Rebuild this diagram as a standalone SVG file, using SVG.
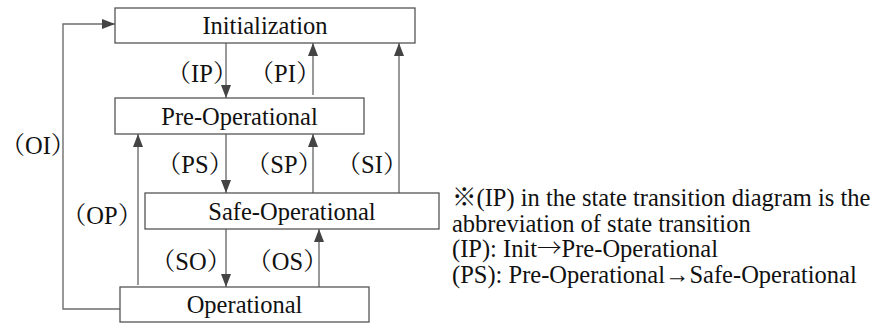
<svg xmlns="http://www.w3.org/2000/svg" width="877" height="323" viewBox="0 0 877 323">
<style>
.dgbox{fill:#fff;stroke:#555;stroke-width:1.3}
.dgmid{text-anchor:middle}
.dgln{fill:none;stroke:#6e6e6e;stroke-width:1.4}
</style>
<defs>
<marker id="ah" markerUnits="userSpaceOnUse" viewBox="0 0 13 10" refX="13" refY="5" markerWidth="13" markerHeight="10" orient="auto">
<path d="M0,0 L13,5 L0,10 z" fill="#444"/>
</marker>
</defs>
<rect width="877" height="323" fill="#fff"/>
<g id="connectors">
<line class="dgln" x1="226" y1="43" x2="226" y2="98" marker-end="url(#ah)"/>
<line class="dgln" x1="313" y1="95" x2="313" y2="43" marker-end="url(#ah)"/>
<line class="dgln" x1="399" y1="193" x2="399" y2="43" marker-end="url(#ah)"/>
<line class="dgln" x1="226" y1="134" x2="226" y2="193" marker-end="url(#ah)"/>
<line class="dgln" x1="313" y1="193" x2="313" y2="134" marker-end="url(#ah)"/>
<line class="dgln" x1="138" y1="285" x2="138" y2="134" marker-end="url(#ah)"/>
<line class="dgln" x1="226" y1="229" x2="226" y2="287" marker-end="url(#ah)"/>
<line class="dgln" x1="319" y1="287" x2="319" y2="229" marker-end="url(#ah)"/>
<polyline class="dgln" points="120,309 63,309 63,24 115,24" marker-end="url(#ah)"/>
<text class="dgmid" font-family="Liberation Serif" font-size="24.5" fill="#111" x="202" y="82"><tspan font-family="Noto Serif CJK SC">（</tspan>IP<tspan font-family="Noto Serif CJK SC">）</tspan></text>
<text class="dgmid" font-family="Liberation Serif" font-size="24.5" fill="#111" x="285" y="82"><tspan font-family="Noto Serif CJK SC">（</tspan>PI<tspan font-family="Noto Serif CJK SC">）</tspan></text>
<text class="dgmid" font-family="Liberation Serif" font-size="24.5" fill="#111" x="195" y="172.5"><tspan font-family="Noto Serif CJK SC">（</tspan>PS<tspan font-family="Noto Serif CJK SC">）</tspan></text>
<text class="dgmid" font-family="Liberation Serif" font-size="24.5" fill="#111" x="284" y="172.5"><tspan font-family="Noto Serif CJK SC">（</tspan>SP<tspan font-family="Noto Serif CJK SC">）</tspan></text>
<text class="dgmid" font-family="Liberation Serif" font-size="24.5" fill="#111" x="372" y="172.5"><tspan font-family="Noto Serif CJK SC">（</tspan>SI<tspan font-family="Noto Serif CJK SC">）</tspan></text>
<text class="dgmid" font-family="Liberation Serif" font-size="24.5" fill="#111" x="102" y="223.5"><tspan font-family="Noto Serif CJK SC">（</tspan>OP<tspan font-family="Noto Serif CJK SC">）</tspan></text>
<text class="dgmid" font-family="Liberation Serif" font-size="24.5" fill="#111" x="191" y="270"><tspan font-family="Noto Serif CJK SC">（</tspan>SO<tspan font-family="Noto Serif CJK SC">）</tspan></text>
<text class="dgmid" font-family="Liberation Serif" font-size="24.5" fill="#111" x="287.5" y="270"><tspan font-family="Noto Serif CJK SC">（</tspan>OS<tspan font-family="Noto Serif CJK SC">）</tspan></text>
<text font-family="Liberation Serif" font-size="24.5" fill="#111" x="0.5" y="153.5"><tspan font-family="Noto Serif CJK SC">（</tspan>OI<tspan font-family="Noto Serif CJK SC">）</tspan></text>
</g>
<g id="init">
<rect class="dgbox" x="115" y="8" width="300" height="35"/>
<text class="dgmid" font-family="Liberation Serif" font-size="24.5" fill="#111" x="265" y="34.3">Initialization</text>
</g>
<g id="preop">
<rect class="dgbox" x="115" y="98" width="249" height="36"/>
<text class="dgmid" font-family="Liberation Serif" font-size="24.5" fill="#111" x="239.5" y="124.5">Pre-Operational</text>
</g>
<g id="safeop">
<rect class="dgbox" x="145" y="193" width="294" height="36"/>
<text class="dgmid" font-family="Liberation Serif" font-size="24.5" fill="#111" x="292" y="219.5">Safe-Operational</text>
</g>
<g id="op">
<rect class="dgbox" x="120" y="287" width="249" height="35"/>
<text class="dgmid" font-family="Liberation Serif" font-size="24.5" fill="#111" x="244.5" y="313">Operational</text>
</g>
<g id="legend">
<text font-family="Liberation Serif" font-size="24.5" fill="#111" x="452" y="206"><tspan font-family="Noto Serif CJK SC">※</tspan>(IP) in the state transition diagram is the</text>
<text font-family="Liberation Serif" font-size="24.5" fill="#111" x="452" y="231.5">abbreviation of state transition</text>
<text font-family="Liberation Serif" font-size="24.5" fill="#111" x="452" y="257">(IP): Init<tspan font-family="Noto Serif CJK SC">→</tspan>Pre-Operational</text>
<text font-family="Liberation Serif" font-size="24.5" fill="#111" x="452" y="282.5">(PS): Pre-Operational→Safe-Operational</text>
</g>
</svg>
